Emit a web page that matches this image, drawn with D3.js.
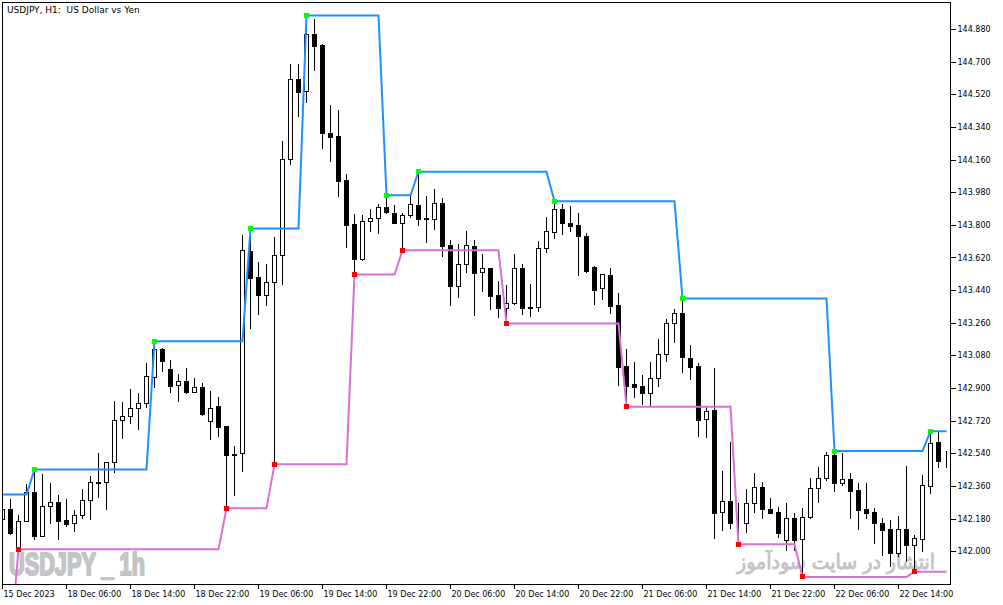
<!DOCTYPE html>
<html><head><meta charset="utf-8">
<script src="https://cdn.jsdelivr.net/npm/d3@7"></script>
<style>body{margin:0;background:#fff;} svg{display:block;}</style>
</head><body>
<svg id="chart" width="1003" height="605"></svg>
<script>
const title = "USDJPY, H1:  US Dollar vs Yen";
const tickLabels = ["15 Dec 2023","18 Dec 06:00","18 Dec 14:00","18 Dec 22:00","19 Dec 06:00","19 Dec 14:00","19 Dec 22:00","20 Dec 06:00","20 Dec 14:00","20 Dec 22:00","21 Dec 06:00","21 Dec 14:00","21 Dec 22:00","22 Dec 06:00","22 Dec 14:00"];
const tickBars = [0,8,16,24,32,40,48,56,64,72,80,88,96,104,112];
const priceTicks = [144.88,144.70,144.52,144.34,144.16,143.98,143.80,143.62,143.44,143.26,143.08,142.90,142.72,142.54,142.36,142.18,142.00];

const opens = [142.179,142.234,142.021,142.171,142.329,142.088,142.252,142.274,142.175,142.157,
142.201,142.283,142.383,142.383,142.493,142.726,142.748,142.790,142.818,142.964,
143.117,143.005,142.917,142.939,142.882,142.906,142.722,142.803,142.693,142.538,
142.542,143.657,143.514,143.416,143.485,143.639,144.168,144.609,144.539,144.857,
144.792,144.311,144.291,144.048,143.806,143.615,143.824,143.843,143.903,143.870,
143.815,143.859,143.914,143.837,143.837,143.925,143.690,143.466,143.584,143.688,
143.540,143.562,143.415,143.345,143.369,143.567,143.348,143.347,143.677,143.763,
143.888,143.815,143.800,143.740,143.569,143.455,143.525,143.359,143.023,142.924,
142.913,142.876,142.956,143.093,143.259,143.314,143.071,143.023,142.730,142.781,
142.217,142.281,142.165,142.160,142.267,142.358,142.234,142.217,142.065,142.184,
142.069,142.190,142.350,142.405,142.533,142.377,142.399,142.340,142.235,142.217,
142.157,142.125,141.995,142.125,142.037,142.069,142.364,142.603,142.505];
const highs = [142.241,142.289,142.202,142.373,142.454,142.431,142.377,142.313,142.290,142.230,
142.346,142.419,142.542,142.497,142.831,142.827,142.897,142.873,143.038,143.161,
143.123,143.060,142.979,143.012,142.956,142.930,142.886,142.853,142.696,142.583,
143.745,143.782,143.598,143.589,143.736,144.263,144.691,144.691,144.957,144.939,
144.798,144.465,144.434,144.081,143.865,143.855,143.892,143.920,143.966,143.910,
143.870,143.960,144.096,143.960,144.002,143.953,143.718,143.699,143.767,143.718,
143.644,143.566,143.492,143.470,143.641,143.589,143.475,143.712,143.844,143.933,
143.916,143.905,143.870,143.755,143.574,143.534,143.562,143.429,143.117,143.044,
142.974,143.044,143.172,143.286,143.337,143.396,143.139,143.038,142.796,143.011,
142.445,142.603,142.267,142.344,142.432,142.386,142.294,142.248,142.267,142.212,
142.239,142.405,142.469,142.548,142.555,142.542,142.435,142.377,142.377,142.239,
142.184,142.175,142.197,142.472,142.092,142.423,142.664,142.658,142.555];
const lows = [142.172,142.098,142.013,142.167,142.069,142.084,142.157,142.070,142.143,142.114,
142.184,142.180,142.303,142.235,142.441,142.628,142.708,142.676,142.799,142.909,
142.997,142.882,142.832,142.876,142.880,142.756,142.623,142.638,142.239,142.313,
142.446,143.234,143.312,143.361,142.482,143.479,144.140,144.403,144.480,144.654,
144.226,144.155,143.962,143.681,143.529,143.607,143.769,143.758,143.868,143.811,
143.663,143.846,143.802,143.708,143.782,143.631,143.359,143.405,143.543,143.304,
143.438,143.341,143.295,143.259,143.365,143.310,143.301,143.328,143.653,143.730,
143.754,143.769,143.525,143.540,143.365,143.393,143.317,142.919,142.799,142.854,
142.814,142.808,142.915,143.053,143.157,142.992,142.953,142.639,142.634,142.074,
142.120,142.129,142.041,142.110,142.221,142.184,142.213,142.080,142.010,142.010,
141.861,142.186,142.276,142.395,142.336,142.368,142.184,142.125,142.184,142.050,
141.982,141.923,141.976,141.949,141.890,142.006,142.325,142.469,142.467];
const closes = [142.234,142.102,142.168,142.331,142.088,142.252,142.274,142.171,142.154,142.201,
142.285,142.383,142.377,142.493,142.726,142.748,142.790,142.818,142.968,143.117,
143.053,142.915,142.939,142.882,142.906,142.761,142.790,142.689,142.535,142.535,
143.663,143.510,143.416,143.485,143.639,144.168,144.609,144.535,144.857,144.788,
144.309,144.287,144.044,143.800,143.615,143.826,143.843,143.903,143.874,143.813,
143.859,143.920,143.835,143.839,143.925,143.686,143.466,143.584,143.694,143.537,
143.562,143.411,143.345,143.369,143.567,143.345,143.346,143.677,143.767,143.888,
143.813,143.796,143.741,143.547,143.444,143.529,143.356,143.020,142.913,142.909,
142.876,142.956,143.093,143.259,143.314,143.075,143.020,142.726,142.777,142.215,
142.281,142.160,142.162,142.267,142.358,142.234,142.215,142.102,142.184,142.065,
142.190,142.350,142.405,142.533,142.377,142.399,142.336,142.230,142.215,142.157,
142.120,141.995,142.125,142.037,142.074,142.366,142.597,142.502,142.504];

const resBars = [0,4,19,31,38,48,52,69,85,104,116];
const resLevels = [142.316,142.454,143.161,143.782,144.957,143.966,144.096,143.933,143.396,142.555,142.664];
const supBars = [0,2,28,34,44,50,63,78,92,100,114];
const supLevels = [141.500,142.013,142.239,142.482,143.529,143.663,143.259,142.799,142.041,141.861,141.890];

const watermark = "USDJPY _ 1h";
const siteText = "انتشار در سایت سودآموز";

// ---- build tables ----
const n = opens.length;
const bars = d3.range(n).map(i => ({i, o: opens[i], h: highs[i], l: lows[i], c: closes[i]}));
function stepSeries(bs, lv) {
  const out = [];
  let k = 0;
  for (let i = 0; i < n; i++) {
    while (k + 1 < bs.length && bs[k + 1] <= i) k++;
    out.push(lv[k]);
  }
  return out;
}
const resSeries = stepSeries(resBars, resLevels);
const supSeries = stepSeries(supBars, supLevels);

// ---- layout ----
const svg = d3.select("#chart");
const font = "'DejaVu Sans', Verdana, sans-serif";
const L = 2, R = 950, T = 2, B = 584;
const x = d3.scaleLinear().domain([0, n - 1]).range([2.5, 2.5 + 8 * (n - 1)]);
const y = d3.scaleLinear().domain([142.0, 144.88]).range([551.7, 29.5]);

svg.append("rect").attr("width", 1003).attr("height", 605).attr("fill", "#fff");

const defs = svg.append("defs");
defs.append("clipPath").attr("id", "plotClip").append("rect")
  .attr("x", L).attr("y", T + 1).attr("width", R - L).attr("height", B - T - 1);

const plot = svg.append("g").attr("clip-path", "url(#plotClip)");

// watermarks
function fitText(sel, left, width, baseline) {
  const bb = sel.node().getBBox();
  const sx = width / bb.width;
  sel.attr("transform", `translate(${left - bb.x * sx},${baseline}) scale(${sx},1)`);
}
const wm = plot.append("text").attr("x", 0).attr("y", 0)
  .attr("font-family", "'Liberation Sans', Arial, sans-serif").attr("font-weight", "bold")
  .attr("font-size", 31).attr("fill", "#c4c4c4")
  .attr("stroke", "#c4c4c4").attr("stroke-width", 2.2).attr("stroke-linejoin", "round")
  .text(watermark);
fitText(wm, 9, 136, 575);
const st = plot.append("text").attr("x", 0).attr("y", 0)
  .attr("font-family", font).attr("font-size", 21).attr("fill", "#c4c4c4")
  .attr("stroke", "#c4c4c4").attr("stroke-width", 0.9).attr("stroke-linejoin", "round")
  .attr("direction", "rtl").text(siteText);
fitText(st, 736, 199, 569);

// candles
const cg = plot.append("g").attr("shape-rendering", "crispEdges");
cg.selectAll("line.wick").data(bars).join("line").attr("class", "wick")
  .attr("x1", d => x(d.i)).attr("x2", d => x(d.i))
  .attr("y1", d => Math.round(y(d.h))).attr("y2", d => Math.round(y(d.l)) + 1)
  .attr("stroke", "#000").attr("stroke-width", 1);
cg.selectAll("rect.body").data(bars).join("rect").attr("class", "body")
  .attr("x", d => x(d.i) - 2)
  .attr("y", d => Math.round(y(Math.max(d.o, d.c))) + 0.5)
  .attr("width", 4)
  .attr("height", d => Math.max(0, Math.round(y(Math.min(d.o, d.c))) - Math.round(y(Math.max(d.o, d.c)))))
  .attr("fill", d => d.c >= d.o ? "#fff" : "#000")
  .attr("stroke", "#000").attr("stroke-width", 1);

// indicator lines
const line = d3.line().x((d, i) => x(i)).y(d => y(d));
plot.append("path").datum(supSeries).attr("d", line)
  .attr("fill", "none").attr("stroke", "#da70d6").attr("stroke-width", 2);
plot.append("path").datum(resSeries).attr("d", line)
  .attr("fill", "none").attr("stroke", "#1e90ff").attr("stroke-width", 2);

// markers
const mk = plot.append("g").attr("shape-rendering", "crispEdges");
mk.selectAll("rect.res").data(resBars.slice(1)).join("rect").attr("class", "res")
  .attr("x", b => Math.round(x(b) - 2.5)).attr("y", b => Math.round(y(resSeries[b]) - 2.5))
  .attr("width", 5).attr("height", 5).attr("fill", "#00ff00");
mk.selectAll("rect.sup").data(supBars.slice(1)).join("rect").attr("class", "sup")
  .attr("x", b => Math.round(x(b) - 2.5)).attr("y", b => Math.round(y(supSeries[b]) - 2.5))
  .attr("width", 5).attr("height", 5).attr("fill", "#ff0000");

// frame
svg.append("rect").attr("x", L + 0.5).attr("y", T + 0.5).attr("width", R - L).attr("height", B - T)
  .attr("fill", "none").attr("stroke", "#000").attr("stroke-width", 1).attr("shape-rendering", "crispEdges");

// right axis
const yAxis = d3.axisRight(y).tickValues(priceTicks).tickSize(5).tickPadding(2)
  .tickFormat(d3.format(".3f")).offset(0);
const ya = svg.append("g").attr("transform", `translate(${R + 0.5},0)`).call(yAxis);
ya.select(".domain").remove();
ya.selectAll("line").attr("shape-rendering", "crispEdges").attr("stroke", "#000");
ya.selectAll("text").attr("font-family", font).attr("font-size", 8).attr("fill", "#000");

// bottom axis
const xAxis = d3.axisBottom(x).tickValues(tickBars).tickSize(4)
  .tickFormat((d, i) => tickLabels[i]).offset(0);
const xa = svg.append("g").attr("transform", `translate(0,${B + 0.5})`).call(xAxis);
xa.select(".domain").remove();
xa.selectAll("line").attr("shape-rendering", "crispEdges").attr("stroke", "#000");
xa.selectAll("text").attr("font-family", font).attr("font-size", 8).attr("fill", "#000")
  .attr("text-anchor", "start").attr("x", 1).attr("dy", null).attr("y", 12);

// title
svg.append("text").attr("x", 7).attr("y", 12.7).attr("font-family", font).attr("font-size", 9)
  .attr("fill", "#000").style("white-space", "pre").text(title);
</script>
</body></html>
